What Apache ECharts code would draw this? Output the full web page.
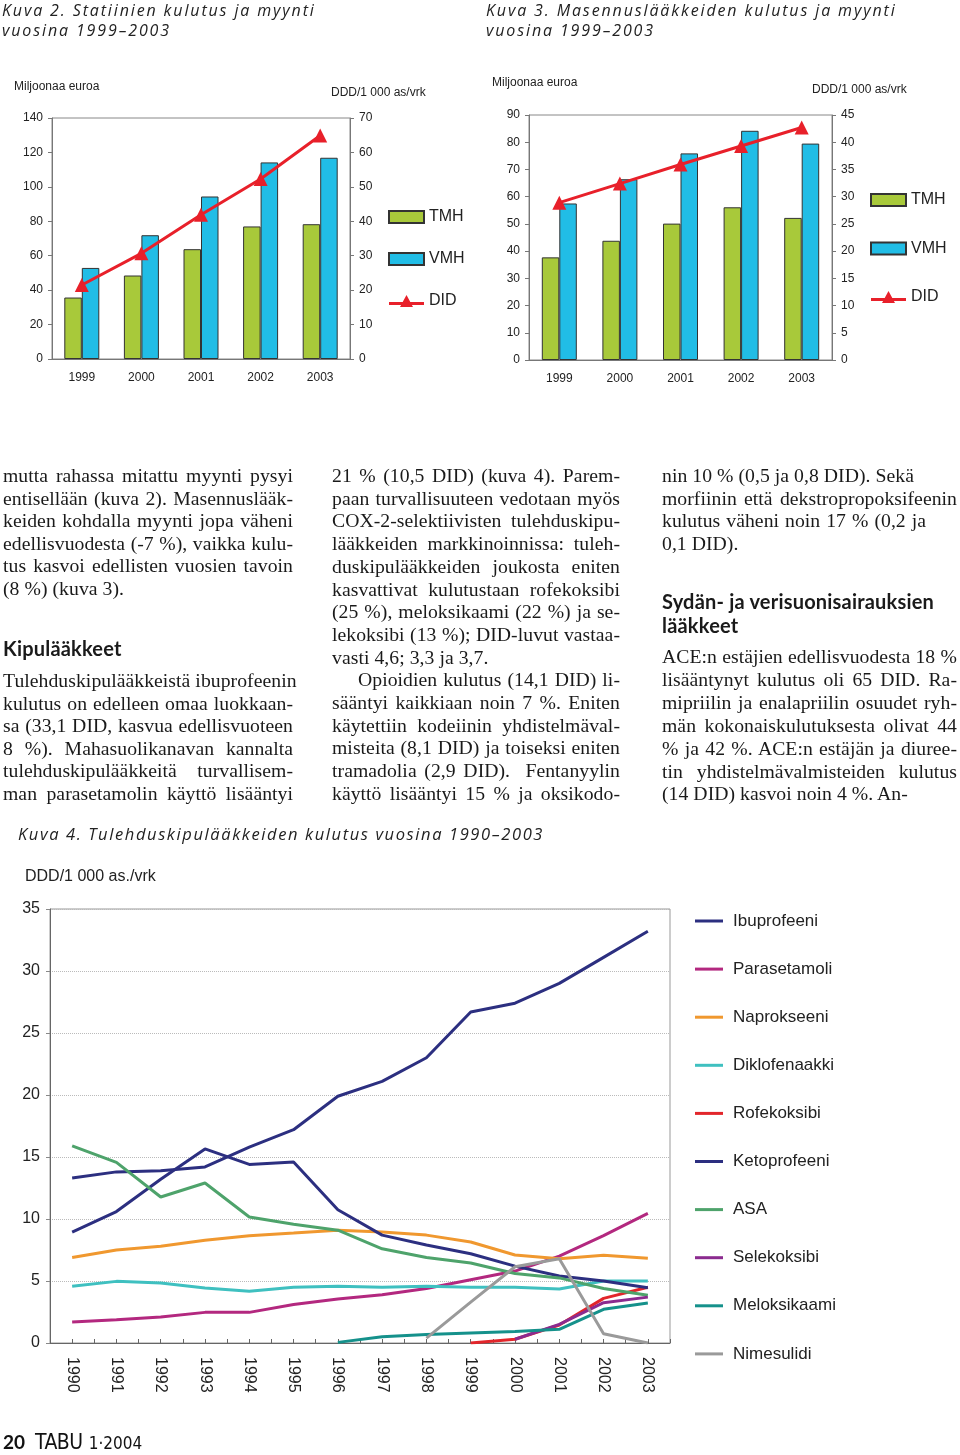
<!DOCTYPE html>
<html><head><meta charset="utf-8">
<script src="https://cdn.jsdelivr.net/npm/echarts@6/dist/echarts.min.js"></script>
<style>
html,body{margin:0;padding:0;background:#fff;}
#wrap{position:relative;width:960px;height:1455px;overflow:hidden;}
#c{position:absolute;left:0;top:0;width:960px;height:1455px;}
.t{position:absolute;font-family:"Open Sans",sans-serif;font-style:italic;font-weight:500;color:#222;white-space:nowrap;letter-spacing:1.87px;font-size:16px;line-height:20px;}
.l{position:absolute;font-family:"Liberation Serif","Times New Roman",serif;font-size:19.7px;letter-spacing:0.05px;line-height:22px;height:22px;color:#1a1a1a;white-space:nowrap;}
.j{text-align:justify;text-align-last:justify;}
.h{position:absolute;font-family:Lato,"Open Sans",sans-serif;font-weight:700;font-size:20px;letter-spacing:0.2px;line-height:24px;color:#1a1a1a;white-space:nowrap;}
.c1{left:3px;width:290px;}
.c2{left:332px;width:288px;}
.c3{left:662px;width:295px;}
.foot{position:absolute;left:3px;top:1430px;white-space:nowrap;color:#111;}
</style></head>
<body><div id="wrap">
<div id="c"></div>

<div class="t" style="left:2px;top:0px;">Kuva 2. Statiinien kulutus ja myynti</div>
<div class="t" style="left:2px;top:20px;">vuosina 1999–2003</div>
<div class="t" style="left:486px;top:0px;">Kuva 3. Masennuslääkkeiden kulutus ja myynti</div>
<div class="t" style="left:486px;top:20px;">vuosina 1999–2003</div>
<div class="t" style="left:18px;top:824px;font-size:16.5px;letter-spacing:1.6px;">Kuva 4. Tulehduskipulääkkeiden kulutus vuosina 1990–2003</div>

<div class="l c1 j" style="top:464px;">mutta rahassa mitattu myynti pysyi</div>
<div class="l c1 j" style="top:486.6px;">entisellään (kuva 2). Masennuslääk-</div>
<div class="l c1 j" style="top:509.2px;">keiden kohdalla myynti jopa väheni</div>
<div class="l c1 j" style="top:531.8px;">edellisvuodesta (-7 %), vaikka kulu-</div>
<div class="l c1 j" style="top:554.4px;">tus kasvoi edellisten vuosien tavoin</div>
<div class="l c1" style="top:577px;">(8 %) (kuva 3).</div>
<div class="h" style="left:3px;top:636px;">Kipulääkkeet</div>
<div class="l c1 j" style="top:669px;">Tulehduskipulääkkeistä ibuprofeenin</div>
<div class="l c1 j" style="top:691.6px;">kulutus on edelleen omaa luokkaan-</div>
<div class="l c1 j" style="top:714.2px;">sa (33,1 DID, kasvua edellisvuoteen</div>
<div class="l c1 j" style="top:736.8px;">8 %). Mahasuolikanavan kannalta</div>
<div class="l c1 j" style="top:759.4px;">tulehduskipulääkkeitä turvallisem-</div>
<div class="l c1 j" style="top:782px;">man parasetamolin käyttö lisääntyi</div>

<div class="l c2 j" style="top:464px;">21 % (10,5 DID) (kuva 4). Parem-</div>
<div class="l c2 j" style="top:486.7px;">paan turvallisuuteen vedotaan myös</div>
<div class="l c2 j" style="top:509.4px;">COX-2-selektiivisten tulehduskipu-</div>
<div class="l c2 j" style="top:532.1px;">lääkkeiden markkinoinnissa: tuleh-</div>
<div class="l c2 j" style="top:554.8px;">duskipulääkkeiden joukosta eniten</div>
<div class="l c2 j" style="top:577.5px;">kasvattivat kulutustaan rofekoksibi</div>
<div class="l c2 j" style="top:600.2px;">(25 %), meloksikaami (22 %) ja se-</div>
<div class="l c2 j" style="top:622.9px;">lekoksibi (13 %); DID-luvut vastaa-</div>
<div class="l c2" style="top:645.6px;">vasti 4,6; 3,3 ja 3,7.</div>
<div class="l c2 j" style="top:668.3px;"><span style="display:inline-block;width:26px;"></span>Opioidien kulutus (14,1 DID) li-</div>
<div class="l c2 j" style="top:691px;">sääntyi kaikkiaan noin 7 %. Eniten</div>
<div class="l c2 j" style="top:713.7px;">käytettiin kodeiinin yhdistelmäval-</div>
<div class="l c2 j" style="top:736.4px;">misteita (8,1 DID) ja toiseksi eniten</div>
<div class="l c2 j" style="top:759.1px;">tramadolia (2,9 DID).&nbsp; Fentanyylin</div>
<div class="l c2 j" style="top:781.8px;">käyttö lisääntyi 15 % ja oksikodo-</div>

<div class="l c3" style="top:464px;">nin 10 % (0,5 ja 0,8 DID). Sekä</div>
<div class="l c3 j" style="top:486.6px;">morfiinin että dekstropropoksifeenin</div>
<div class="l c3" style="top:509.2px;word-spacing:1px;">kulutus väheni noin 17 % (0,2 ja</div>
<div class="l c3" style="top:531.8px;">0,1 DID).</div>
<div class="h" style="left:662px;top:589px;">Sydän- ja verisuonisairauksien</div>
<div class="h" style="left:662px;top:613px;">lääkkeet</div>
<div class="l c3 j" style="top:645px;">ACE:n estäjien edellisvuodesta 18 %</div>
<div class="l c3 j" style="top:667.9px;">lisääntynyt kulutus oli 65 DID. Ra-</div>
<div class="l c3 j" style="top:690.8px;">mipriilin ja enalapriilin osuudet ryh-</div>
<div class="l c3 j" style="top:713.7px;">män kokonaiskulutuksesta olivat 44</div>
<div class="l c3 j" style="top:736.6px;">% ja 42 %. ACE:n estäjän ja diuree-</div>
<div class="l c3 j" style="top:759.5px;">tin yhdistelmävalmisteiden kulutus</div>
<div class="l c3" style="top:782.4px;">(14 DID) kasvoi noin 4 %. An-</div>

<div class="foot"><span style="font-family:Lato,sans-serif;font-weight:700;font-size:19px;">20</span><span style="font-family:'DejaVu Sans Condensed','DejaVu Sans',sans-serif;font-size:21px;margin-left:10px;letter-spacing:-0.5px;">TABU</span><span style="font-family:'DejaVu Sans Condensed','DejaVu Sans',sans-serif;font-size:17px;margin-left:6px;">1·2004</span></div>
</div>
<script>
// ---- Kuva 2: statiinit ----
const barYears = ['1999', '2000', '2001', '2002', '2003'];
const statTMH = [35.7, 48.5, 63.8, 77.0, 78.3];
const statVMH = [52.9, 71.9, 94.4, 114.2, 116.9];
const statDID = [21.5, 30.7, 41.9, 52.3, 64.9];
// ---- Kuva 3: masennuslääkkeet ----
const masTMH = [37.7, 43.8, 50.1, 56.1, 52.2];
const masVMH = [57.5, 66.4, 75.9, 84.2, 79.5];
const masDID = [28.9, 32.4, 35.9, 39.3, 42.7];
// ---- Kuva 4: tulehduskipulääkkeet ----
const lineYears = [1990, 1991, 1992, 1993, 1994, 1995, 1996, 1997, 1998, 1999, 2000, 2001, 2002, 2003];
const ibuprofeeni   = [13.3, 13.8, 13.9, 14.2, 15.8, 17.2, 19.9, 21.1, 23.0, 26.7, 27.4, 29.0, 31.1, 33.2];
const parasetamoli  = [1.7, 1.88, 2.1, 2.47, 2.47, 3.1, 3.55, 3.9, 4.4, 5.1, 5.8, 7.0, 8.66, 10.46];
const naprokseeni   = [6.9, 7.5, 7.8, 8.28, 8.65, 8.87, 9.1, 8.95, 8.7, 8.15, 7.1, 6.8, 7.07, 6.83];
const diklofenaakki = [4.57, 4.97, 4.84, 4.43, 4.17, 4.5, 4.57, 4.5, 4.57, 4.5, 4.5, 4.35, 5.0, 5.0];
const rofekoksibi   = [null, null, null, null, null, null, null, null, null, 0, 0.3, 1.45, 3.6, 4.5];
const ketoprofeeni  = [8.95, 10.6, 13.2, 15.65, 14.4, 14.6, 10.75, 8.7, 7.9, 7.2, 6.2, 5.4, 5.0, 4.45];
const asa           = [15.9, 14.57, 11.77, 12.9, 10.16, 9.57, 9.1, 7.6, 6.9, 6.45, 5.6, 5.25, 4.4, 3.85];
const selekoksibi   = [null, null, null, null, null, null, null, null, null, null, 0.3, 1.5, 3.25, 3.7];
const meloksikaami  = [null, null, null, null, null, null, 0.05, 0.5, 0.68, 0.8, 0.92, 1.1, 2.72, 3.22];
const nimesulidi    = [null, null, null, null, null, null, null, null, 0.4, 3.3, 6.15, 6.8, 0.75, 0];
const lineNames  = ['Ibuprofeeni', 'Parasetamoli', 'Naprokseeni', 'Diklofenaakki', 'Rofekoksibi', 'Ketoprofeeni', 'ASA', 'Selekoksibi', 'Meloksikaami', 'Nimesulidi'];
const lineValues = [ibuprofeeni, parasetamoli, naprokseeni, diklofenaakki, rofekoksibi, ketoprofeeni, asa, selekoksibi, meloksikaami, nimesulidi];
const lineColors = ['#2c2f80', '#b3287f', '#f0982f', '#3fc0c0', '#e2262b', '#2c2f80', '#4ea36b', '#8b2b8f', '#15918b', '#9a9a9a'];

const TMH_C = '#a8c93a', VMH_C = '#21bde6', DID_C = '#e8202a';
const FONT = 'Liberation Sans, Arial, sans-serif';
const DID_ICON = 'path://M0,7 L13.7,7 L17.5,0 L21.3,7 L35,7 L35,10 L22.9,10 L24,12 L11,12 L12.1,10 L0,10 Z';

const chart = echarts.init(document.getElementById('c'), null, {renderer: 'canvas'});

function barAxes(gridIndex, leftMax, leftInt, rightMax, rightInt) {
  const axisLine = {show: true, lineStyle: {color: '#777', width: 1}};
  return {
    x: {type: 'category', gridIndex, data: barYears,
        axisLine, axisTick: {show: false},
        axisLabel: {fontSize: 12, color: '#222', fontFamily: FONT, margin: 13}},
    yl: {type: 'value', gridIndex, position: 'left', min: 0, max: leftMax, interval: leftInt,
         axisLine, axisTick: {show: true, length: 4, lineStyle: {color: '#777'}}, splitLine: {show: false},
         axisLabel: {fontSize: 12, color: '#222', fontFamily: FONT, margin: 9}},
    yr: {type: 'value', gridIndex, position: 'right', min: 0, max: rightMax, interval: rightInt,
         axisLine, axisTick: {show: true, length: 4, lineStyle: {color: '#777'}}, splitLine: {show: false},
         axisLabel: {fontSize: 12, color: '#222', fontFamily: FONT, margin: 9}}
  };
}
const a1 = barAxes(0, 140, 20, 70, 10);
const a2 = barAxes(1, 90, 10, 45, 5);

function barSeries(xi, yl, yr, tmh, vmh, did) {
  return [
    {name: 'TMH', type: 'bar', xAxisIndex: xi, yAxisIndex: yl, data: tmh, barWidth: 17.5, barGap: '0%',
     itemStyle: {color: TMH_C, borderColor: '#333', borderWidth: 1}},
    {name: 'VMH', type: 'bar', xAxisIndex: xi, yAxisIndex: yl, data: vmh, barWidth: 17.5, barGap: '0%',
     itemStyle: {color: VMH_C, borderColor: '#333', borderWidth: 1}},
    {name: 'DID', type: 'line', xAxisIndex: xi, yAxisIndex: yr, data: did, z: 5,
     symbol: 'triangle', symbolSize: 14, lineStyle: {color: DID_C, width: 3}, itemStyle: {color: DID_C}}
  ];
}

const lineSeries = lineNames.map((n, i) => ({
  name: n, type: 'line', xAxisIndex: 2, yAxisIndex: 4, showSymbol: false, symbol: 'none',
  data: lineYears.map((y, k) => [y, lineValues[i][k]]),
  lineStyle: {color: lineColors[i], width: 3}, itemStyle: {color: lineColors[i]}
}));

const barLegendData = [
  {name: 'TMH', icon: 'rect'},
  {name: 'VMH', icon: 'rect'},
  {name: 'DID', icon: DID_ICON, itemStyle: {color: DID_C, borderWidth: 0}}
];

const option = {
  animation: false,
  textStyle: {fontFamily: FONT},
  grid: [
    {left: 52, top: 118, width: 298, height: 241, show: true, borderColor: '#888', borderWidth: 1},
    {left: 529, top: 115, width: 303, height: 245, show: true, borderColor: '#888', borderWidth: 1},
    {left: 50, top: 909, width: 620, height: 434, show: true, borderColor: '#999', borderWidth: 1}
  ],
  xAxis: [a1.x, a2.x,
    {type: 'value', gridIndex: 2, min: 1989.5, max: 2003.5, interval: 0.5,
     axisLine: {show: true, lineStyle: {color: '#666'}},
     axisTick: {show: true, inside: true, length: 4, lineStyle: {color: '#666'}},
     splitLine: {show: false},
     axisLabel: {rotate: -90, fontSize: 16, color: '#222', fontFamily: FONT, margin: 14,
       formatter: v => (Number.isInteger(v) ? String(v) : '')}}
  ],
  yAxis: [a1.yl, a1.yr, a2.yl, a2.yr,
    {type: 'value', gridIndex: 2, min: 0, max: 35, interval: 5,
     axisLine: {show: true, lineStyle: {color: '#666'}},
     axisTick: {show: true, length: 4, lineStyle: {color: '#888'}},
     splitLine: {show: true, lineStyle: {color: '#bbb', type: 'dotted'}},
     axisLabel: {fontSize: 16, color: '#222', fontFamily: FONT, margin: 10}}
  ],
  legend: [
    {orient: 'vertical', left: 383, top: 204, itemWidth: 35, itemHeight: 12, itemGap: 26,
     data: barLegendData, textStyle: {fontSize: 16, lineHeight: 16, color: '#222', fontFamily: FONT}},
    {orient: 'vertical', left: 865, top: 187, itemWidth: 35, itemHeight: 12, itemGap: 32.5,
     data: barLegendData, textStyle: {fontSize: 16, lineHeight: 16, color: '#222', fontFamily: FONT}},
    {orient: 'vertical', left: 690, top: 906, itemWidth: 28, itemHeight: 3, itemGap: 28.1, icon: 'rect',
     data: lineNames, textStyle: {fontSize: 17, lineHeight: 20, color: '#222', fontFamily: FONT, padding: [0, 0, 0, 5]}}
  ],
  graphic: [
    {type: 'text', left: 14, top: 81, style: {text: 'Miljoonaa euroa', font: '12px ' + FONT, fill: '#222'}},
    {type: 'text', left: 331, top: 87, style: {text: 'DDD/1 000 as/vrk', font: '12px ' + FONT, fill: '#222'}},
    {type: 'text', left: 492, top: 77, style: {text: 'Miljoonaa euroa', font: '12px ' + FONT, fill: '#222'}},
    {type: 'text', left: 812, top: 84, style: {text: 'DDD/1 000 as/vrk', font: '12px ' + FONT, fill: '#222'}},
    {type: 'text', left: 25, top: 869, style: {text: 'DDD/1 000 as./vrk', font: '16px ' + FONT, fill: '#222'}}
  ],
  series: [].concat(
    barSeries(0, 0, 1, statTMH, statVMH, statDID),
    barSeries(1, 2, 3, masTMH, masVMH, masDID),
    lineSeries
  )
};
chart.setOption(option);
</script>
</body></html>
